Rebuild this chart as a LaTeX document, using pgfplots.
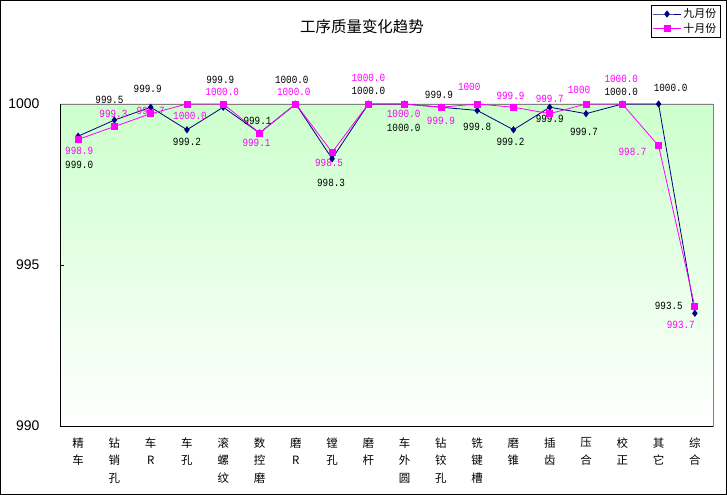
\documentclass[border=0pt]{standalone}
\usepackage{fontspec}
\usepackage{pgfplots}
\pgfplotsset{compat=1.18}
\setmainfont{Liberation Sans}
\newfontfamily\cjk{Noto Sans CJK SC}
\newfontfamily\mono[FakeStretch=0.85]{Liberation Mono}
\definecolor{navyb}{RGB}{0,0,128}
\definecolor{mag}{RGB}{255,0,255}
\definecolor{topg}{RGB}{204,255,204}
\newcommand{\bl}[5]{\node[font=\mono\fontsize{11}{11}\selectfont,text=black,inner sep=0pt,xshift=#3bp,yshift=#4bp] at (axis cs:#1,#2) {#5};}
\newcommand{\ml}[5]{\node[font=\mono\fontsize{11}{11}\selectfont,text=mag,inner sep=0pt,xshift=#3bp,yshift=#4bp] at (axis cs:#1,#2) {#5};}
\begin{document}
\begin{tikzpicture}
\draw[black,line width=1bp] (0.5bp,0.5bp) rectangle (726.5bp,494.5bp);
\node[font=\cjk\fontsize{15.5}{16}\selectfont] at (362bp,468bp) {工序质量变化趋势};
\begin{axis}[
  at={(60bp,69bp)}, anchor=south west, scale only axis,
  width=653bp, height=322bp,
  xmin=-0.5, xmax=17.5, ymin=990, ymax=1000,
  clip=false,
  axis background/.style={top color=topg, bottom color=white},
  axis line style={draw=gray},
  xtick={0,...,17},
  xticklabels={{精\\车},{钻\\销\\孔},{车\\R},{车\\孔},{滚\\螺\\纹},{数\\控\\磨},{磨\\R},{镗\\孔},{磨\\杆},{车\\外\\圆},{钻\\铰\\孔},{铣\\键\\槽},{磨\\锥},{插\\齿},{压\\合},{校\\正},{其\\它},{综\\合}},
  xticklabel style={font=\cjk\fontsize{11.5}{17.5}\selectfont, align=center, anchor=north, yshift=-8bp},
  major x tick style={draw=none},
  extra x ticks={0.5,1.5,...,16.5},
  extra x tick labels={},
  extra x tick style={major tick length=4bp, tick style={black, draw=black}},
  xtick pos=bottom,
  ytick={990,995,1000},
  yticklabels={990,995,1000},
  ytick pos=left,
  major tick length=4bp,
  ytick style={black},
  yticklabel style={font=\fontsize{14}{14}\selectfont, xshift=-17bp},
  legend style={at={(1.0107,1.3075)}, anchor=north east, draw=black, font=\cjk\fontsize{11}{12}\selectfont, inner sep=1.5bp, row sep=0bp, legend cell align=left},
  legend image code/.code={\draw[mark repeat=2,mark phase=2] plot coordinates {(0bp,0bp) (14bp,0bp) (28bp,0bp)};},
]
\addplot[navyb, line width=0.8bp, mark=diamond*, mark size=3bp, mark options={fill=navyb, draw=navyb}] coordinates {
(0,999.0) (1,999.5) (2,999.9) (3,999.2) (4,999.9) (5,999.1) (6,1000.0) (7,998.3) (8,1000.0)
(9,1000.0) (10,999.9) (11,999.8) (12,999.2) (13,999.9) (14,999.7) (15,1000.0) (16,1000.0) (17,993.5)};
\addlegendentry{九月份}
\addplot[mag, line width=0.8bp, mark=square*, mark size=3bp, mark options={fill=mag, draw=mag}] coordinates {
(0,998.9) (1,999.3) (2,999.7) (3,1000.0) (4,1000.0) (5,999.1) (6,1000.0) (7,998.5) (8,1000.0)
(9,1000.0) (10,999.9) (11,1000.0) (12,999.9) (13,999.7) (14,1000.0) (15,1000.0) (16,998.7) (17,993.7)};
\addlegendentry{十月份}
\draw[black, line width=1bp] (rel axis cs:0,1) -- (rel axis cs:0,0) -- (rel axis cs:1,0);
% blue labels
\bl{0}{999.0}{1}{-29}{999.0}
\bl{1}{999.5}{-5}{20}{999.5}
\bl{2}{999.9}{-3}{18}{999.9}
\bl{3}{999.2}{0}{-12}{999.2}
\bl{4}{999.9}{-3}{27}{999.9}
\bl{5}{999.1}{-2}{12}{999.1}
\bl{6}{1000}{-4}{24}{1000.0}
\bl{7}{998.3}{-1}{-24}{998.3}
\bl{8}{1000}{0}{13}{1000.0}
\bl{9}{1000}{-1}{-24}{1000.0}
\bl{10}{999.9}{-2}{12}{999.9}
\bl{11}{999.8}{0}{-16}{999.8}
\bl{12}{999.2}{-3}{-12}{999.2}
\bl{13}{999.9}{0}{-12}{999.9}
\bl{14}{999.7}{-2}{-18}{999.7}
\bl{15}{1000}{-1}{12}{1000.0}
\bl{16}{1000}{12}{16}{1000.0}
\bl{17}{993.5}{-26}{7}{993.5}
% magenta labels
\ml{0}{998.9}{1}{-11}{998.9}
\ml{1}{999.3}{-1}{13}{999.3}
\ml{2}{999.7}{0}{3}{999.7}
\ml{3}{1000}{3}{-12}{1000.0}
\ml{4}{1000}{-1}{12}{1000.0}
\ml{5}{999.1}{-3}{-10}{999.1}
\ml{6}{1000}{-2}{12}{1000.0}
\ml{7}{998.5}{-3}{-11}{998.5}
\ml{8}{1000}{0}{26}{1000.0}
\ml{9}{1000}{-1}{-10}{1000.0}
\ml{10}{999.9}{0}{-14}{999.9}
\ml{11}{1000}{-8}{17}{1000}
\ml{12}{999.9}{-3}{11}{999.9}
\ml{13}{999.7}{0}{15}{999.7}
\ml{14}{1000}{-7}{14}{1000}
\ml{15}{1000}{-1}{25}{1000.0}
\ml{16}{998.7}{-26}{-6}{998.7}
\ml{17}{993.7}{-14}{-18}{993.7}
\end{axis}
\end{tikzpicture}
\end{document}
